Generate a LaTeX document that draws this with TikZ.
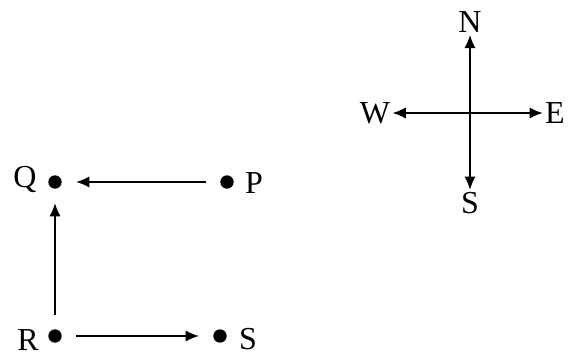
\documentclass[tikz,border=0pt]{standalone}
\usepackage{fontspec}
\setmainfont{Liberation Serif}
\usetikzlibrary{arrows.meta, positioning}

\begin{document}
\begin{tikzpicture}[x=0.75pt,y=-0.75pt,->,>={Latex[length=10pt,width=8.5pt]},
  line width=1.5pt,font=\fontsize{24}{28}\selectfont,
  dot/.style={circle,fill,inner sep=0pt,minimum size=10pt},
  gap/.style={shorten <=10pt,shorten >=10pt},
  dir/.style={inner sep=1pt}]
  \useasboundingbox (0,0) rectangle (572,356);

  % the four points
  \node[dot] (ptQ) at (55,182) {};
  \node[dot] (ptP) at (227,182) {};
  \node[dot] (ptR) at (55,336) {};
  \node[dot] (ptS) at (220,336) {};

  \node (labQ) at (25,180) {Q};
  \node (labP) at (254,183) {P};
  \node (labR) at (28,340) {R};
  \node (labS) at (248,339) {S};

  \path
     (ptP) edge[gap] (ptQ)
     (ptR) edge[gap] (ptQ)
     (ptR) edge[gap] (ptS);

  % compass
  \coordinate (ctr) at (470,113);
  \node[dir] (N) at (470,22) {N};
  \node[dir] (S) at (470,203) {S};
  \node[dir] (W) at (375,113) {W};
  \node[dir] (E) at (555,113) {E};

  \path
     (ctr) edge (N)
     (ctr) edge (S)
     (ctr) edge (W)
     (ctr) edge (E);
\end{tikzpicture}
\end{document}
